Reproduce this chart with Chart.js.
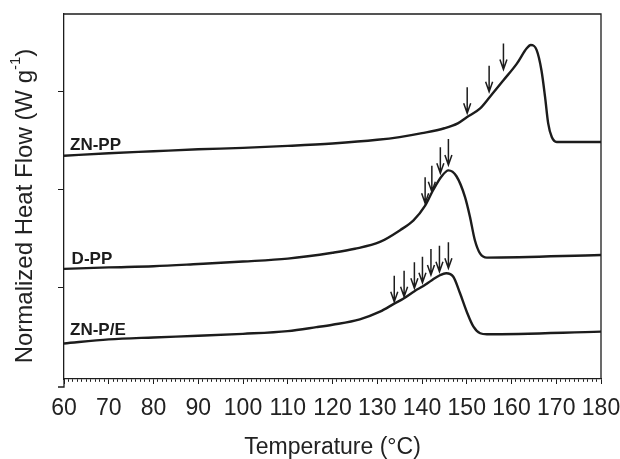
<!DOCTYPE html>
<html>
<head>
<meta charset="utf-8">
<script src="https://cdn.jsdelivr.net/npm/chart.js@4.4.1/dist/chart.umd.min.js"></script>
<style>
  body { margin: 0; background: #fff; }
  canvas { display: block; }
</style>
</head>
<body>
<canvas id="dscChart" width="620" height="459"></canvas>
<script>
// ------------------- Data (curves are offset) -------------------
const znppTemp = [60, 70, 80, 90, 100, 110, 120, 130, 135, 140, 145, 148, 150, 153, 155.2, 158.2, 161.2, 163.4, 164.3, 165.6, 166.7, 167.5, 168.2, 169, 170.1, 180];
const znppFlow = [2.35, 2.375, 2.395, 2.415, 2.43, 2.45, 2.475, 2.512, 2.54, 2.58, 2.63, 2.68, 2.742, 2.833, 2.952, 3.12, 3.29, 3.446, 3.48, 3.43, 3.22, 2.95, 2.68, 2.54, 2.49, 2.49];

const dppTemp = [60, 70, 80, 90, 100, 110, 120, 125, 130.6, 135.1, 138.1, 140.7, 142.5, 144.4, 145.9, 147.7, 149.6, 150.7, 151.8, 153, 154.5, 180];
const dppFlow = [1.195, 1.21, 1.222, 1.245, 1.27, 1.30, 1.36, 1.40, 1.47, 1.59, 1.69, 1.84, 2.0, 2.14, 2.2, 2.14, 1.93, 1.73, 1.49, 1.35, 1.31, 1.337];

const znpeTemp = [60, 70, 80, 90, 100, 110, 116.4, 120, 126.1, 130.6, 133.8, 135.8, 138.4, 140.3, 142.2, 144, 145.4, 147, 148.5, 150, 151.5, 153, 154.5, 180];
const znpeFlow = [0.434, 0.475, 0.495, 0.512, 0.532, 0.56, 0.6, 0.625, 0.68, 0.758, 0.84, 0.89, 0.97, 1.02, 1.08, 1.13, 1.15, 1.115, 0.946, 0.758, 0.605, 0.538, 0.528, 0.554];

// arrows: temperature of each marker and heat flow at its tip
const znppArrowTemp = [150.1, 155.0, 158.2];
const znppArrowTip = [2.783, 3.003, 3.23];
const dppArrowTemp = [140.7, 142.2, 144.1, 145.9];
const dppArrowTip = [1.864, 1.983, 2.17, 2.255];
const znpeArrowTemp = [133.8, 136.0, 138.3, 140.1, 142.0, 143.9, 145.9];
const znpeArrowTip = [0.86, 0.911, 0.997, 1.054, 1.133, 1.166, 1.201];

const sampleNames = ["ZN-PP", "D-PP", "ZN-P/E"];
const yTicks = [1, 2, 3];

const ink = "#1c1c1c";

function toPoints(xs, ys) {
  return xs.map((x, i) => ({ x: x, y: ys[i] }));
}

// label anchors (temperature, heat flow of baseline)
const nameAnchors = [
  { x: 61.34, y: 2.408 },
  { x: 61.7, y: 1.245 },
  { x: 61.34, y: 0.517 }
];

const arrowSets = [
  { t: znppArrowTemp, v: znppArrowTip },
  { t: dppArrowTemp, v: dppArrowTip },
  { t: znpeArrowTemp, v: znpeArrowTip }
];

// frame, arrows, curve names and y title
const extras = {
  id: "extras",
  afterDraw(chart) {
    const c = chart.ctx;
    const a = chart.chartArea;
    const xs = chart.scales.x;
    const ys = chart.scales.y;
    c.save();
    c.strokeStyle = ink;
    c.lineWidth = 1.3;
    c.beginPath();
    c.moveTo(a.left, a.top);
    c.lineTo(a.right, a.top);
    c.lineTo(a.right, a.bottom);
    // y axis runs a bit below the x axis
    c.moveTo(a.left, a.bottom);
    c.lineTo(a.left, a.bottom + 8);
    c.lineTo(a.left - 6, a.bottom + 8);
    c.stroke();

    // arrows
    c.lineWidth = 1.5;
    arrowSets.forEach(set => {
      set.t.forEach((t, i) => {
        const px = xs.getPixelForValue(t);
        const py = ys.getPixelForValue(set.v[i]);
        c.beginPath();
        c.moveTo(px, py - 26);
        c.lineTo(px, py);
        c.moveTo(px - 3.5, py - 10);
        c.lineTo(px, py);
        c.lineTo(px + 3.5, py - 10);
        c.stroke();
      });
    });

    // curve names
    c.fillStyle = ink;
    c.font = "bold 17px 'Liberation Sans', Arial, sans-serif";
    c.textAlign = "left";
    c.textBaseline = "alphabetic";
    sampleNames.forEach((name, i) => {
      c.fillText(name, xs.getPixelForValue(nameAnchors[i].x), ys.getPixelForValue(nameAnchors[i].y));
    });

    // y axis title with superscript
    c.fillStyle = "#222";
    c.translate(25, 206);
    c.rotate(-Math.PI / 2);
    c.textBaseline = "middle";
    const main = "Normalized Heat Flow (W g";
    c.font = "24px 'Liberation Sans', Arial, sans-serif";
    const w1 = c.measureText(main).width;
    const w3 = c.measureText(")").width;
    c.font = "15px 'Liberation Sans', Arial, sans-serif";
    const w2 = c.measureText("-1").width;
    let x0 = -(w1 + w2 + w3) / 2;
    c.font = "24px 'Liberation Sans', Arial, sans-serif";
    c.fillText(main, x0, 0);
    c.font = "15px 'Liberation Sans', Arial, sans-serif";
    c.fillText("-1", x0 + w1, -9);
    c.font = "24px 'Liberation Sans', Arial, sans-serif";
    c.fillText(")", x0 + w1 + w2, 0);
    c.restore();
  }
};

const lineStyle = {
  borderColor: ink,
  borderWidth: 2.4,
  pointRadius: 0,
  fill: false,
  cubicInterpolationMode: "monotone"
};

const ctx = document.getElementById("dscChart").getContext("2d");
new Chart(ctx, {
  type: "line",
  data: {
    datasets: [
      Object.assign({ label: sampleNames[0], data: toPoints(znppTemp, znppFlow) }, lineStyle),
      Object.assign({ label: sampleNames[1], data: toPoints(dppTemp, dppFlow) }, lineStyle),
      Object.assign({ label: sampleNames[2], data: toPoints(znpeTemp, znpeFlow) }, lineStyle)
    ]
  },
  options: {
    responsive: false,
    animation: false,
    layout: { padding: { left: 0, top: 14, right: 19, bottom: 0 } },
    plugins: { legend: { display: false }, tooltip: { enabled: false } },
    scales: {
      x: {
        type: "linear",
        min: 60,
        max: 180,
        afterFit: s => { s.height = 80; s.paddingLeft = 0; s.paddingRight = 0; },
        border: { color: ink, width: 1.3 },
        grid: {
          drawOnChartArea: false,
          tickLength: 5,
          tickColor: ink,
          tickWidth: 1,
          tickBorderDash: c => (c.tick && c.tick.value % 10 === 0) ? [] : [2.5, 20]
        },
        ticks: {
          stepSize: 1,
          autoSkip: false,
          maxRotation: 0,
          padding: 11,
          color: "#222",
          font: { family: "'Liberation Sans', Arial, sans-serif", size: 23 },
          callback: v => (v % 10 === 0 ? v : "")
        },
        title: {
          display: true,
          text: "Temperature (°C)",
          color: "#222",
          padding: { top: 0, bottom: 0 },
          font: { family: "'Liberation Sans', Arial, sans-serif", size: 23, lineHeight: 1.0 }
        }
      },
      y: {
        min: 0.071,
        max: 3.796,
        afterFit: s => { s.width = 64; },
        afterBuildTicks: s => { s.ticks = yTicks.map(v => ({ value: v })); },
        border: { color: ink, width: 1.3 },
        grid: { drawOnChartArea: false, tickLength: 6, tickColor: ink },
        ticks: { callback: () => "" }
      }
    }
  },
  plugins: [extras]
});
</script>
</body>
</html>
